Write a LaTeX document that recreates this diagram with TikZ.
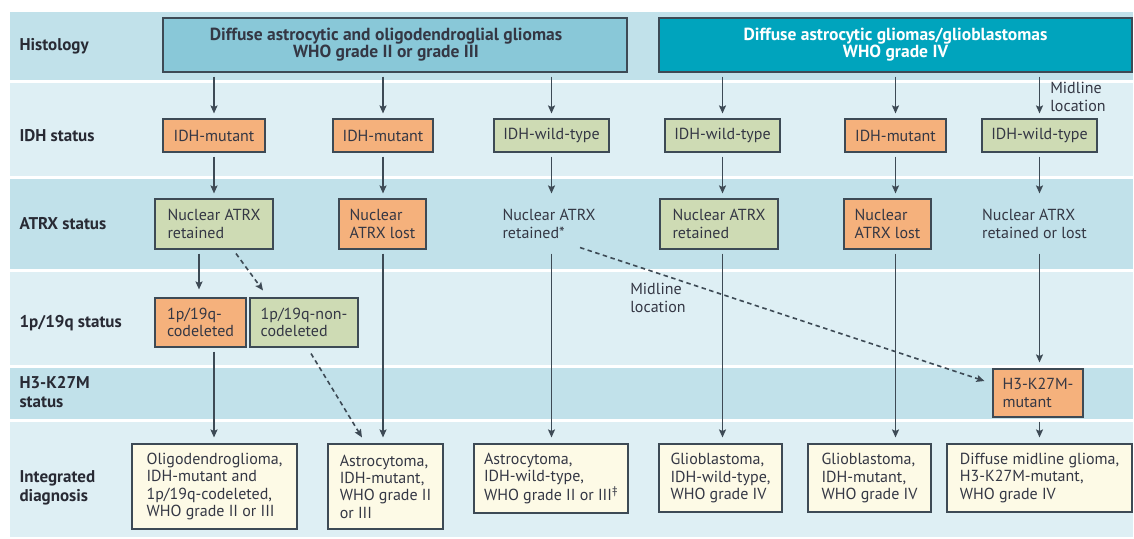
\documentclass[tikz,border=0pt]{standalone}
\usepackage{fontspec}
\setmainfont{PT Sans}
\usetikzlibrary{arrows.meta,calc}
\definecolor{bandD}{RGB}{193,225,234}
\definecolor{bandL}{RGB}{222,239,244}
\definecolor{hdrL}{RGB}{137,200,216}
\definecolor{hdrR}{RGB}{0,164,189}
\definecolor{orng}{RGB}{245,177,124}
\definecolor{grn}{RGB}{206,219,180}
\definecolor{crm}{RGB}{253,250,230}
\definecolor{ln}{RGB}{61,74,85}
\definecolor{txt}{RGB}{52,55,68}
\definecolor{lbl}{RGB}{40,42,52}
\begin{document}
\begin{tikzpicture}[x=1pt,y=-1pt,
  font=\fontsize{16}{17.3}\selectfont, text=txt,
  box/.style={draw=ln, line width=1.1pt, inner xsep=5pt, inner ysep=2pt, align=left},
  obox/.style={box, fill=orng},
  gbox/.style={box, fill=grn},
  cbox/.style={box, fill=crm},
  plain/.style={box, draw=none},
  hdr/.style={draw=ln, line width=1.1pt, align=center, font=\fontsize{17.5}{17}\selectfont\bfseries},
  rowlbl/.style={anchor=west, align=left, text=lbl, font=\fontsize{17}{19}\selectfont\bfseries},
  arr/.style={draw=ln, line width=1.6pt, -{Stealth[length=8pt,width=7pt,inset=1.5pt]}, shorten <=4pt, shorten >=5pt},
  darr/.style={draw=ln, line width=1.6pt, dash pattern=on 4.5pt off 3.5pt, -{Stealth[length=8pt,width=7pt,inset=1.5pt]}}
]
\useasboundingbox (0,0) rectangle (1134,538);
% bands
\fill[bandD] (10,12) rectangle (1133,80);
\fill[bandL] (10,82.5) rectangle (1133,176);
\fill[bandD] (10,179) rectangle (1133,269);
\fill[bandL] (10,272) rectangle (1133,365);
\fill[bandD] (10,367.5) rectangle (1133,418.5);
\fill[bandL] (10,421.5) rectangle (1133,537);
% row labels
\node[rowlbl] (l1) at (16,46) {Histology};
\node[rowlbl] (l2) at (16,136) {IDH status};
\node[rowlbl] (l3) at (16,224) {ATRX status};
\node[rowlbl] (l4) at (16,323) {1p/19q status};
\node[rowlbl] (l5) at (16,392) {H3-K27M\\status};
\node[rowlbl] (l6) at (16,488) {Integrated\\diagnosis};
% headers
\node[hdr, fill=hdrL, minimum width=464, minimum height=54] (h1) at (395,45)
  {Diffuse astrocytic and oligodendroglial gliomas\hspace*{18pt}\\WHO grade II or grade III\hspace*{18pt}};
\node[hdr, fill=hdrR, text=white, minimum width=473, minimum height=54] (h2) at (895.5,45)
  {Diffuse astrocytic gliomas/glioblastomas\\WHO grade IV};
% IDH row
\node[obox, minimum width=102, minimum height=33] (i1) at (214,135.5) {IDH-mutant};
\node[obox, minimum width=100, minimum height=33] (i2) at (383,135.5) {IDH-mutant};
\node[gbox, minimum width=115, minimum height=33] (i3) at (551.5,135.5) {IDH-wild-type};
\node[gbox, minimum width=115, minimum height=33] (i4) at (722.5,135.5) {IDH-wild-type};
\node[obox, minimum width=101, minimum height=33] (i5) at (895.5,135.5) {IDH-mutant};
\node[gbox, minimum width=115, minimum height=33] (i6) at (1039.5,135.5) {IDH-wild-type};
% ATRX row
\node[gbox, minimum width=118, minimum height=50] (a1) at (214,224) {Nuclear ATRX\\retained};
\node[obox, minimum width=87, minimum height=50] (a2) at (382.5,224) {Nuclear\\ATRX lost};
\node[plain, minimum width=100, minimum height=50] (a3) at (549,224) {Nuclear ATRX\\retained*};
\node[gbox, minimum width=118, minimum height=50] (a4) at (719,224) {Nuclear ATRX\\retained};
\node[obox, minimum width=87, minimum height=50] (a5) at (887.5,224) {Nuclear\\ATRX lost};
\node[plain, minimum width=110, minimum height=50] (a6) at (1034.5,224) {Nuclear ATRX\\retained or lost};
% 1p/19q row
\node[obox, minimum width=91, minimum height=49] (p1) at (200.5,322.5) {1p/19q-\\codeleted};
\node[gbox, minimum width=108, minimum height=49] (p2) at (304,322.5) {1p/19q-non-\\codeleted};
% H3 row
\node[obox, minimum width=90, minimum height=48] (h3) at (1038,393) {H3-K27M-\\mutant};
% diagnosis row
\node[cbox, minimum width=165, minimum height=85] (d1) at (214.5,486.5)
  {Oligodendroglioma,\\IDH-mutant and\\1p/19q-codeleted,\\WHO grade II or III};
\node[cbox, minimum width=115, minimum height=85] (d2) at (385.5,486.5)
  {Astrocytoma,\\IDH-mutant,\\WHO grade II\\or III};
\node[cbox, minimum width=154, minimum height=69] (d3) at (551,478.5)
  {Astrocytoma,\\IDH-wild-type,\\WHO grade II or III\textsuperscript{\textdaggerdbl}};
\node[cbox, minimum width=123, minimum height=68] (d4) at (720.5,478)
  {Glioblastoma,\\IDH-wild-type,\\WHO grade IV};
\node[cbox, minimum width=123, minimum height=68] (d5) at (869.5,478)
  {Glioblastoma,\\IDH-mutant,\\WHO grade IV};
\node[cbox, minimum width=185, minimum height=68] (d6) at (1039.5,478)
  {Diffuse midline glioma,\\H3-K27M-mutant,\\WHO grade IV};
% midline labels
\node[align=left, inner sep=0pt] (m1) at (1078,97) {Midline\\location};
\node[align=left, inner sep=0pt] (m2) at (658,298) {Midline\\location};
% arrows histology -> IDH
\foreach \n in {i1,i2}{\draw[arr] (h1.south -| \n.north) -- (\n.north);}
\foreach \n in {i4,i5,i6}{\draw[arr] (h2.south -| \n.north) -- (\n.north);}
\draw[arr] (h1.south -| i3.north) -- (i3.north);
% IDH -> ATRX
\draw[arr] (i1.south) -- (a1.north -| i1.south);
\draw[arr] (i2.south) -- (a2.north -| i2.south);
\draw[arr] (i3.south) -- (a3.north -| i3.south);
\draw[arr] (i4.south) -- (a4.north -| i4.south);
\draw[arr] (i5.south) -- (a5.north -| i5.south);
\draw[arr] (i6.south) -- (a6.north -| i6.south);
% ATRX -> 1p/19q
\draw[arr, shorten >=8pt] ([xshift=-15pt]a1.south) -- (p1.north -| {$(a1.south)+(-15,0)$});
\draw[darr] ($(a1.south)+(22,4)$) -- ($(p2.north)+(-41,-7)$);
% to H3
\draw[arr, shorten >=6pt] (a6.south -| i6.south) -- (h3.north -| i6.south);
\draw[darr] ($(a3.south)+(31,-2)$) -- ($(h3.west)+(-8,-12)$);
% to diagnosis
\draw[arr, shorten >=6pt] (p1.south -| i1.south) -- (d1.north -| i1.south);
\draw[darr] ($(p2.south)+(7,6)$) -- ($(d2.north)+(-23.5,-6)$);
\draw[arr, shorten >=6pt] (a2.south -| i2.south) -- (d2.north -| i2.south);
\draw[arr, shorten >=6pt] (a3.south -| i3.south) -- (d3.north -| i3.south);
\draw[arr, shorten >=6pt] (a4.south -| i4.south) -- (d4.north -| i4.south);
\draw[arr, shorten >=6pt] (a5.south -| i5.south) -- (d5.north -| i5.south);
\draw[arr, shorten >=6pt] (h3.south -| i6.south) -- (d6.north -| i6.south);
\end{tikzpicture}
\end{document}
